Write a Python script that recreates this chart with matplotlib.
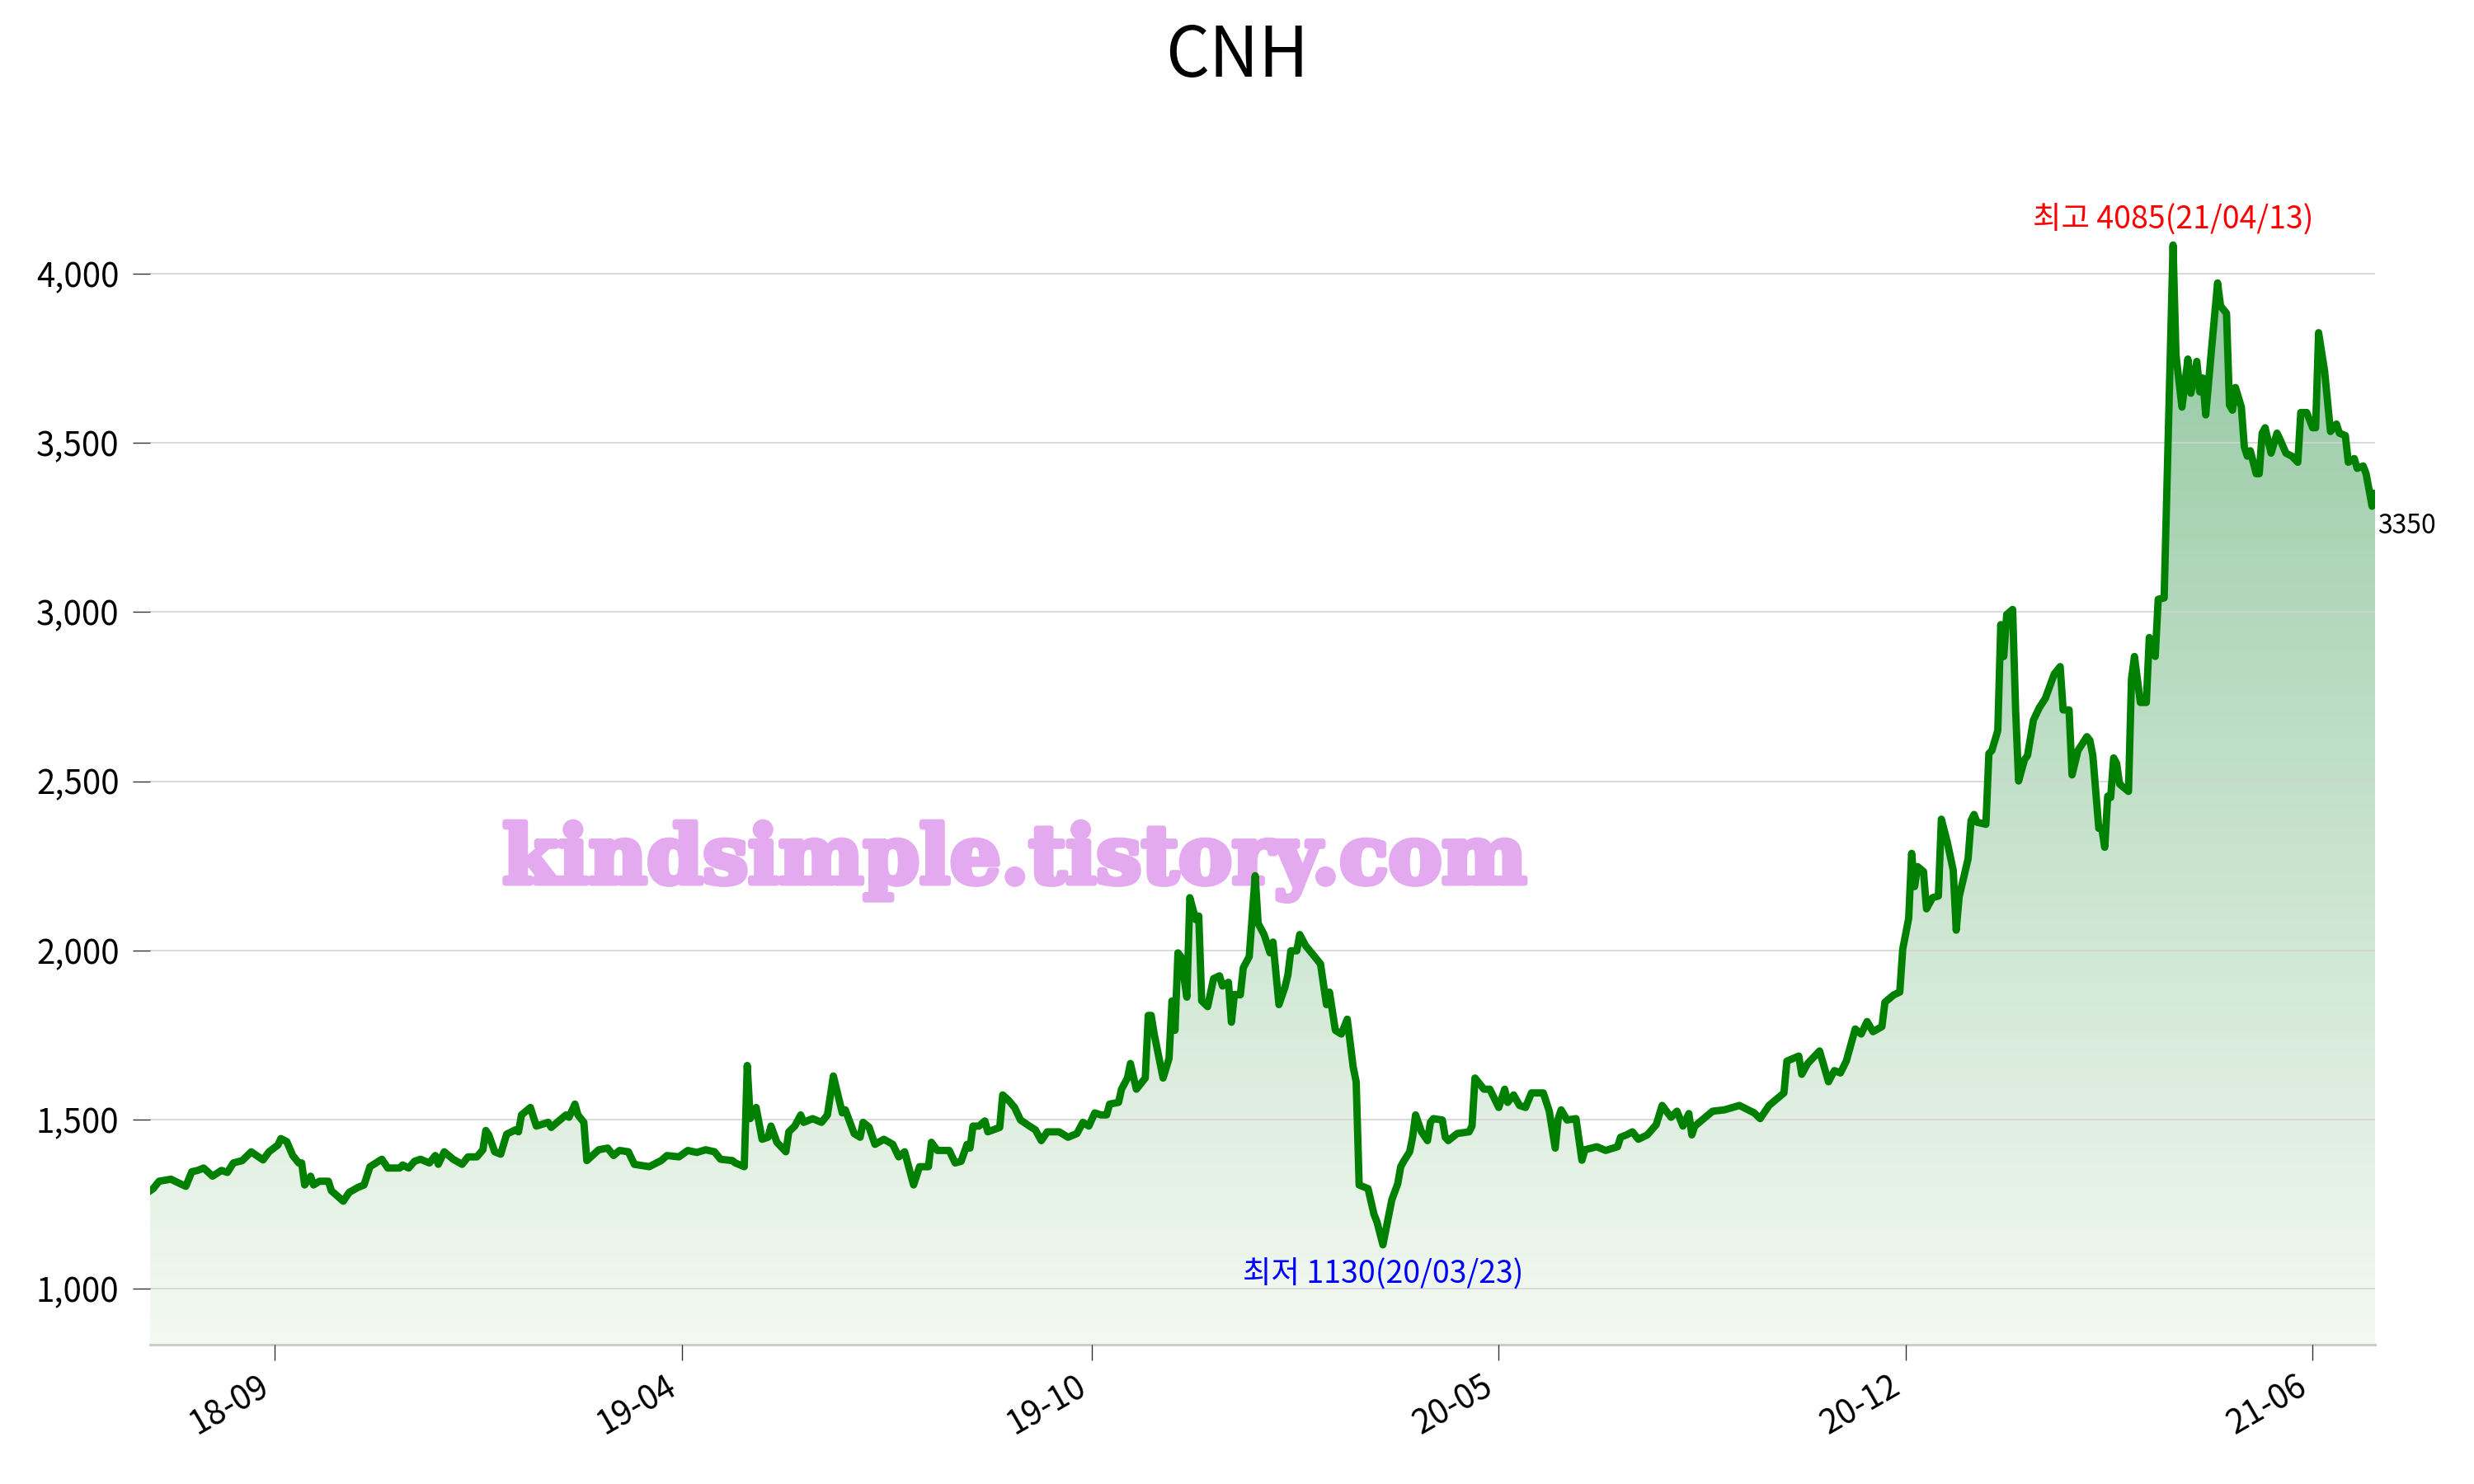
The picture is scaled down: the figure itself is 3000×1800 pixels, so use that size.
import numpy as np
import matplotlib.pyplot as plt
import matplotlib.patheffects as pe

plt.rcParams['font.family'] = ['Noto Sans CJK KR', 'DejaVu Sans']

# 종가 (거래일 인덱스, 가격) - 그림에서 읽은 값
day = [0, 1, 3, 7, 10, 12, 14, 16, 18, 21, 24, 26, 28, 31, 34, 38, 40, 43, 44, 46,
       48, 50, 51, 52, 54, 55, 57, 60, 61, 65, 67, 70, 72, 74, 76, 78, 80, 84, 85, 87,
       89, 91, 94, 96, 97, 99, 102, 105, 107, 110, 112, 113, 114, 116, 118, 120, 123, 124, 125, 128,
       130, 134, 135, 137, 140, 141, 143, 144, 146, 147, 151, 154, 156, 158, 161, 163, 168, 172, 174, 178,
       181, 184, 187, 190, 192, 196, 197, 200, 201, 202, 204, 206, 208, 209, 211, 214, 215, 217, 219, 220,
       223, 226, 228, 230, 233, 234, 237, 239, 240, 242, 244, 247, 250, 252, 254, 257, 259, 262, 263, 265,
       269, 271, 273, 275, 276, 277, 279, 281, 282, 286, 287, 289, 291, 293, 296, 298, 300, 302, 306, 309,
       312, 314, 316, 318, 320, 322, 323, 326, 327, 329, 330, 332, 335, 336, 337, 338, 341, 343, 344, 345,
       346, 347, 349, 350, 352, 353, 354, 356, 358, 360, 361, 363, 364, 365, 367, 368, 370, 372, 373, 375,
       377, 378, 380, 382, 383, 384, 386, 387, 389, 392, 394, 396, 397, 399, 401, 403, 405, 406, 407, 410,
       412, 413, 415, 418, 420, 421, 422, 424, 425, 426, 428, 430, 431, 432, 435, 436, 437, 440, 444, 445,
       446, 449, 451, 454, 456, 457, 459, 461, 463, 465, 469, 471, 473, 474, 475, 477, 480, 482, 483, 487,
       490, 494, 495, 497, 499, 501, 504, 507, 509, 512, 514, 516, 518, 519, 520, 523, 526, 530, 535, 540,
       542, 545, 550, 551, 555, 556, 558, 562, 565, 567, 569, 571, 574, 576, 578, 580, 583, 584, 587, 589,
       590, 592, 593, 594, 595, 597, 598, 600, 602, 603, 605, 607, 608, 609, 612, 613, 614, 615, 618, 619,
       620, 622, 623, 624, 625, 627, 628, 629, 631, 632, 634, 636, 638, 641, 643, 644, 646, 647, 649, 652,
       653, 654, 656, 657, 658, 659, 660, 661, 662, 663, 666, 667, 668, 670, 672, 673, 675, 676, 678, 681,
       682, 684, 686, 687, 689, 690, 691, 692, 694, 696, 697, 699, 700, 701, 702, 704, 705, 706, 707, 709,
       710, 711, 712, 714, 716, 717, 719, 721, 723, 724, 726, 728, 729, 730, 732, 734, 736, 737, 739, 740,
       742, 743, 745, 746, 748, 749]
price = [1290, 1296, 1318, 1324, 1311, 1303, 1346, 1350, 1357, 1333, 1350, 1344, 1372, 1379, 1405, 1381, 1405, 1425, 1444, 1435,
         1394, 1372, 1372, 1307, 1333, 1307, 1318, 1318, 1290, 1259, 1285, 1300, 1307, 1361, 1372, 1383, 1357, 1357, 1366, 1357,
         1377, 1383, 1372, 1394, 1368, 1405, 1383, 1368, 1390, 1390, 1411, 1468, 1455, 1405, 1398, 1457, 1470, 1464, 1514, 1536,
         1481, 1492, 1477, 1492, 1514, 1507, 1546, 1514, 1492, 1379, 1411, 1416, 1394, 1409, 1405, 1368, 1361, 1379, 1394, 1390,
         1409, 1403, 1411, 1405, 1383, 1379, 1372, 1361, 1660, 1503, 1536, 1442, 1448, 1481, 1433, 1405, 1464, 1481, 1514, 1492,
         1503, 1492, 1514, 1629, 1520, 1529, 1459, 1448, 1492, 1478, 1427, 1442, 1427, 1390, 1405, 1307, 1361, 1361, 1433, 1409,
         1409, 1372, 1377, 1427, 1416, 1481, 1481, 1496, 1464, 1477, 1573, 1557, 1536, 1499, 1481, 1470, 1438, 1464, 1464, 1448,
         1459, 1492, 1481, 1520, 1514, 1514, 1546, 1551, 1590, 1623, 1666, 1590, 1623, 1808, 1808, 1753, 1623, 1681, 1851, 1764,
         1993, 1982, 1862, 2156, 2091, 2102, 1851, 1834, 1917, 1925, 1895, 1906, 1788, 1870, 1869, 1949, 1982, 2221, 2080, 2047,
         1993, 2025, 1840, 1891, 1927, 1999, 1999, 2047, 2014, 1982, 1960, 1840, 1877, 1764, 1753, 1797, 1655, 1612, 1307, 1296,
         1220, 1198, 1130, 1263, 1311, 1361, 1377, 1405, 1448, 1514, 1464, 1438, 1492, 1503, 1499, 1448, 1438, 1459, 1464, 1481,
         1623, 1590, 1590, 1536, 1590, 1551, 1573, 1542, 1536, 1579, 1579, 1525, 1416, 1503, 1529, 1499, 1503, 1380, 1411, 1420,
         1409, 1420, 1448, 1455, 1464, 1442, 1455, 1485, 1542, 1507, 1525, 1481, 1518, 1455, 1481, 1503, 1525, 1529, 1542, 1520,
         1503, 1542, 1579, 1673, 1688, 1634, 1666, 1703, 1612, 1645, 1638, 1673, 1768, 1753, 1790, 1760, 1775, 1847, 1869, 1877,
         2004, 2095, 2287, 2189, 2248, 2233, 2123, 2156, 2161, 2388, 2320, 2237, 2060, 2159, 2271, 2384, 2402, 2379, 2373, 2582,
         2591, 2650, 2963, 2869, 2993, 3008, 2711, 2501, 2564, 2576, 2681, 2718, 2745, 2817, 2839, 2711, 2711, 2519, 2591, 2632,
         2621, 2576, 2361, 2361, 2305, 2456, 2452, 2569, 2553, 2492, 2470, 2801, 2869, 2733, 2733, 2925, 2869, 3038, 3042, 4085,
         3759, 3606, 3748, 3647, 3741, 3651, 3692, 3583, 3782, 3973, 3905, 3883, 3612, 3597, 3664, 3606, 3488, 3461, 3477, 3409,
         3409, 3529, 3545, 3470, 3529, 3511, 3470, 3461, 3443, 3590, 3590, 3545, 3545, 3826, 3714, 3534, 3556, 3529, 3522, 3443,
         3454, 3425, 3432, 3409, 3313, 3350]

tick_days = [42, 179, 317, 454, 591, 728]
tick_labels = ['18-09', '19-04', '19-10', '20-05', '20-12', '21-06']

hi_day, hi_val, hi_date = 681, 4085, '21/04/13'
lo_day, lo_val, lo_date = 415, 1130, '20/03/23'

y_bottom = 835
y_top = 4300

fig = plt.figure(figsize=(15, 9), dpi=200)
ax = fig.add_axes([0.0607, 0.0939, 0.8993, 0.79])
ax.set_xlim(day[0], day[-1])
ax.set_ylim(y_bottom, y_top)

# 그라데이션 채우기
fill = ax.fill_between(day, price, y_bottom, color='none', lw=0)
c_low = np.array([244, 249, 242]) / 255
c_high = np.array([146, 200, 161]) / 255
t = np.linspace(0, 1, 256).reshape(-1, 1, 1)
grad = c_low + (c_high - c_low) * t
im = ax.imshow(grad, origin='lower', aspect='auto', zorder=1,
               extent=[day[0], day[-1], y_bottom, max(price)])
im.set_clip_path(fill.get_paths()[0], transform=ax.transData)

ax.plot(day, price, color='green', lw=3.2, zorder=3, solid_joinstyle='round')

# 축 설정
ax.yaxis.grid(True, color='#d3d3d3', lw=0.6)
ax.set_axisbelow(False)
for s in ['top', 'right', 'left']:
    ax.spines[s].set_visible(False)
ax.spines['bottom'].set_color('#cccccc')
ax.spines['bottom'].set_linewidth(1.1)

ax.set_yticks([1000, 1500, 2000, 2500, 3000, 3500, 4000])
ax.yaxis.set_major_formatter(plt.FuncFormatter(lambda v, p: f'{v:,.0f}'))
ax.tick_params(axis='y', length=7.5, width=0.5, color='#333333', pad=6, labelsize=14.5)
ax.set_xticks(tick_days)
ax.set_xticklabels(tick_labels, rotation=30, ha='right')
ax.tick_params(axis='x', length=7, width=0.5, color='#333333', pad=4, labelsize=14.5)

# 최고/최저/현재 표시
ax.annotate(f'최고 {hi_val}({hi_date})', xy=(hi_day, hi_val), xytext=(0, 11),
            textcoords='offset points', ha='center', va='center', color='red', fontsize=13.5)
ax.annotate(f'최저 {lo_val}({lo_date})', xy=(lo_day, lo_val), xytext=(0, -13),
            textcoords='offset points', ha='center', va='center', color='blue', fontsize=13.5)
ax.annotate(f'{price[-1]}', xy=(day[-1], price[-1]), xytext=(1, -14),
            textcoords='offset points', ha='left', va='center', color='black', fontsize=11.5,
            annotation_clip=False)

fig.text(0.5, 1 - 69 / 1800, 'CNH', ha='center', va='center', fontsize=30)

# 워터마크
ax.text(1231 / 3000, 1 - 1045 / 1800, 'kindsimple.tistory.com', transform=fig.transFigure,
        family='DejaVu Serif', fontweight='bold', fontsize=35, color='#E4AAF0',
        ha='center', va='center', zorder=2,
        path_effects=[pe.withStroke(linewidth=2.5, foreground='#E4AAF0')])

plt.savefig('out.png', dpi=200)
